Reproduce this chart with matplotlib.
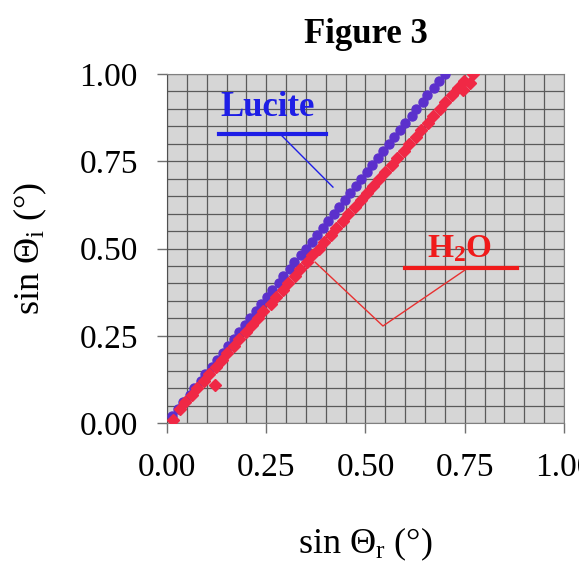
import numpy as np
import matplotlib
matplotlib.use("Agg")
import matplotlib.pyplot as plt
from matplotlib.ticker import MultipleLocator, FormatStrFormatter

plt.rcParams['font.family'] = ['Liberation Serif', 'DejaVu Serif']
plt.rcParams['mathtext.default'] = 'regular'

# sin(theta_r), sin(theta_i)
lucite_x = [0.012, 0.027, 0.041, 0.057, 0.069, 0.085, 0.097, 0.113, 0.125, 0.141,
            0.153, 0.169, 0.181, 0.197, 0.209, 0.225, 0.237, 0.253, 0.265, 0.281,
            0.293, 0.309, 0.321, 0.337, 0.349, 0.365, 0.377, 0.393, 0.405, 0.421,
            0.433, 0.449, 0.461, 0.477, 0.489, 0.504, 0.516, 0.532, 0.544, 0.560,
            0.572, 0.588, 0.600, 0.616, 0.628, 0.644, 0.656, 0.672, 0.684, 0.699]
lucite_y = [0.02, 0.04, 0.06, 0.08, 0.10, 0.12, 0.14, 0.16, 0.18, 0.20,
            0.22, 0.24, 0.26, 0.28, 0.30, 0.32, 0.34, 0.36, 0.38, 0.40,
            0.42, 0.44, 0.46, 0.48, 0.50, 0.52, 0.54, 0.56, 0.58, 0.60,
            0.62, 0.64, 0.66, 0.68, 0.70, 0.72, 0.74, 0.76, 0.78, 0.80,
            0.82, 0.84, 0.86, 0.88, 0.90, 0.92, 0.94, 0.96, 0.98, 1.00]

water_x = [0.014, 0.032, 0.045, 0.062, 0.075, 0.093, 0.106, 0.121, 0.123, 0.138,
           0.152, 0.169, 0.182, 0.199, 0.213, 0.230, 0.243, 0.261, 0.274, 0.291,
           0.304, 0.322, 0.335, 0.352, 0.365, 0.383, 0.396, 0.413, 0.426, 0.444,
           0.457, 0.474, 0.488, 0.505, 0.518, 0.535, 0.549, 0.566, 0.579, 0.596,
           0.610, 0.627, 0.640, 0.657, 0.671, 0.688, 0.701, 0.719, 0.732, 0.745,
           0.749, 0.763, 0.770]
water_y = [0.01, 0.04, 0.06, 0.08, 0.10, 0.12, 0.14, 0.109, 0.16, 0.18,
           0.20, 0.22, 0.24, 0.26, 0.28, 0.30, 0.32, 0.34, 0.36, 0.38,
           0.40, 0.42, 0.44, 0.46, 0.48, 0.50, 0.52, 0.54, 0.56, 0.58,
           0.60, 0.62, 0.64, 0.66, 0.68, 0.70, 0.72, 0.74, 0.76, 0.78,
           0.80, 0.82, 0.84, 0.86, 0.88, 0.90, 0.92, 0.94, 0.96, 0.955,
           0.98, 0.975, 1.00]

ticks = [0.00, 0.25, 0.50, 0.75, 1.00]

fig = plt.figure(figsize=(5.79, 5.65), dpi=100)
ax = fig.add_axes([0.2884, 0.2513, 0.6857, 0.6177])
ax.set_facecolor('#d6d6d6')

ax.xaxis.set_major_locator(MultipleLocator(0.25))
ax.yaxis.set_major_locator(MultipleLocator(0.25))
ax.xaxis.set_minor_locator(MultipleLocator(0.05))
ax.yaxis.set_minor_locator(MultipleLocator(0.05))
ax.grid(True, which='both', color='#5a5a5a', lw=0.9)
ax.set_axisbelow(True)

ax.plot(lucite_x, lucite_y, 'o', color='#5b30cc', ms=6.5, mec='#5b30cc', zorder=3)
ax.plot(water_x, water_y, 'D', color='#f02845', ms=6.5, mec='#f02845', zorder=4)

ax.set_xlim(0, 1)
ax.set_ylim(0, 1)
ax.set_xticks(ticks)
ax.set_yticks(ticks)
ax.xaxis.set_major_formatter(FormatStrFormatter('%.2f'))
ax.yaxis.set_major_formatter(FormatStrFormatter('%.2f'))
ax.tick_params(which='major', direction='out', length=7, width=1, color='#707070',
               labelsize=24, pad=14)
ax.tick_params(which='minor', length=0)
for s in ax.spines.values():
    s.set_color('#808080')
ax.spines['left'].set_color('#505050')

# annotations
ax.text(0.254, 0.905, 'Lucite', color='#1e1ee6', fontsize=25, fontweight='bold',
        ha='center', va='center', zorder=5)
ax.plot([0.131, 0.401], [0.828, 0.828], color='#1e1ee6', lw=3, zorder=5)
ax.plot([0.285, 0.418], [0.828, 0.676], color='#1e1ee6', lw=1, zorder=5)

ax.text(0.736, 0.500, 'H$_2$O', color='#f01a1a', fontsize=24, fontweight='bold',
        ha='center', va='center', zorder=5)
ax.plot([0.599, 0.882], [0.444, 0.444], color='#f01a1a', lw=3, zorder=5)
ax.plot([0.750, 0.544, 0.373], [0.438, 0.278, 0.461], color='#e83030', lw=1, zorder=5)

ax.set_title('Figure 3', fontsize=25, fontweight='bold', pad=22)
ax.set_xlabel('sin Θ$_r$ (°)', fontsize=26, labelpad=31)
ax.set_ylabel('sin Θ$_i$ (°)', fontsize=26, labelpad=22)

fig.savefig('out.png', dpi=100)
